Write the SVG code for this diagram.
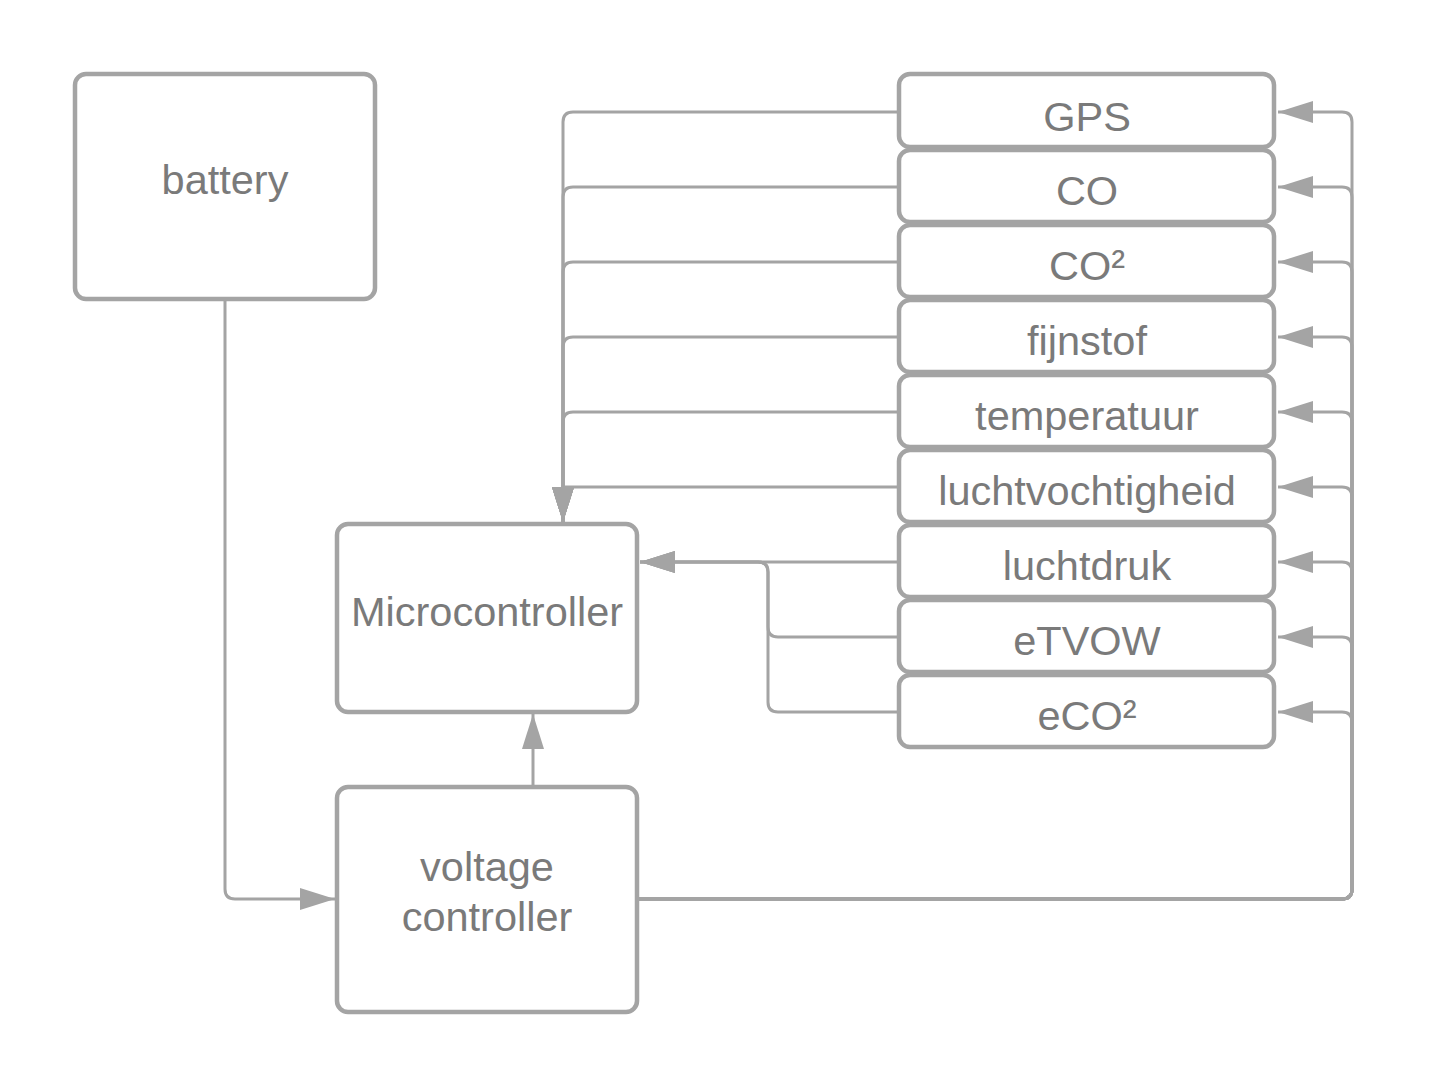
<svg xmlns="http://www.w3.org/2000/svg" width="1429" height="1088" viewBox="0 0 1429 1088">
<style>
.box{fill:#ffffff;stroke:#a4a4a4;stroke-width:4.5}
.lbl{font-family:"Liberation Sans",Arial,sans-serif;font-size:41.5px;fill:#7a7a7a;text-anchor:middle}
.ln{fill:none;stroke:#a4a4a4;stroke-width:3}
</style>
<defs>
<marker id="ah" markerUnits="userSpaceOnUse" markerWidth="36" markerHeight="24" refX="35" refY="11" orient="auto">
<path d="M0,0 L35,11 L0,22 z" fill="#a4a4a4"/>
</marker>
</defs>
<rect width="1429" height="1088" fill="#ffffff"/>
<g id="connectors">
<path class="ln" d="M225 299 V889 Q225 899 235 899 H335" marker-end="url(#ah)"/>
<path class="ln" d="M533 787 V714" marker-end="url(#ah)"/>
<path class="ln" d="M897 112 H573 Q563 112 563 122 V522" marker-end="url(#ah)"/>
<path class="ln" d="M897 187 H573 Q563 187 563 197 V522" marker-end="url(#ah)"/>
<path class="ln" d="M897 262 H573 Q563 262 563 272 V522" marker-end="url(#ah)"/>
<path class="ln" d="M897 337 H573 Q563 337 563 347 V522" marker-end="url(#ah)"/>
<path class="ln" d="M897 412 H573 Q563 412 563 422 V522" marker-end="url(#ah)"/>
<path class="ln" d="M897 487 H563 V522" marker-end="url(#ah)"/>
<path class="ln" d="M897 562 H640" marker-end="url(#ah)"/>
<path class="ln" d="M897 637 H778 Q768 637 768 627 V572 Q768 562 758 562 H640" marker-end="url(#ah)"/>
<path class="ln" d="M897 712 H778 Q768 712 768 702 V572 Q768 562 758 562 H640" marker-end="url(#ah)"/>
<path class="ln" d="M639 899 H1342 Q1352 899 1352 889 V122 Q1352 112 1342 112 H1278" marker-end="url(#ah)"/>
<path class="ln" d="M639 899 H1342 Q1352 899 1352 889 V197 Q1352 187 1342 187 H1278" marker-end="url(#ah)"/>
<path class="ln" d="M639 899 H1342 Q1352 899 1352 889 V272 Q1352 262 1342 262 H1278" marker-end="url(#ah)"/>
<path class="ln" d="M639 899 H1342 Q1352 899 1352 889 V347 Q1352 337 1342 337 H1278" marker-end="url(#ah)"/>
<path class="ln" d="M639 899 H1342 Q1352 899 1352 889 V422 Q1352 412 1342 412 H1278" marker-end="url(#ah)"/>
<path class="ln" d="M639 899 H1342 Q1352 899 1352 889 V497 Q1352 487 1342 487 H1278" marker-end="url(#ah)"/>
<path class="ln" d="M639 899 H1342 Q1352 899 1352 889 V572 Q1352 562 1342 562 H1278" marker-end="url(#ah)"/>
<path class="ln" d="M639 899 H1342 Q1352 899 1352 889 V647 Q1352 637 1342 637 H1278" marker-end="url(#ah)"/>
<path class="ln" d="M639 899 H1342 Q1352 899 1352 889 V722 Q1352 712 1342 712 H1278" marker-end="url(#ah)"/>
</g>
<g id="battery"><rect class="box" x="75" y="74" width="300" height="225" rx="11"/><text class="lbl" x="225" y="194">battery</text></g>
<g id="microcontroller"><rect class="box" x="337" y="524" width="300" height="188" rx="11"/><text class="lbl" x="487" y="626">Microcontroller</text></g>
<g id="voltage-controller"><rect class="box" x="337" y="787" width="300" height="225" rx="11"/><text class="lbl" x="487" y="881">voltage</text><text class="lbl" x="487" y="931">controller</text></g>
<g id="gps"><rect class="box" x="899" y="74" width="375" height="73" rx="11"/><text class="lbl" x="1087" y="131">GPS</text></g>
<g id="co"><rect class="box" x="899" y="150" width="375" height="72" rx="11"/><text class="lbl" x="1087" y="205">CO</text></g>
<g id="co2"><rect class="box" x="899" y="225" width="375" height="72" rx="11"/><text class="lbl" x="1087" y="280">CO²</text></g>
<g id="fijnstof"><rect class="box" x="899" y="300" width="375" height="72" rx="11"/><text class="lbl" x="1087" y="355">fijnstof</text></g>
<g id="temperatuur"><rect class="box" x="899" y="375" width="375" height="72" rx="11"/><text class="lbl" x="1087" y="430">temperatuur</text></g>
<g id="luchtvochtigheid"><rect class="box" x="899" y="450" width="375" height="72" rx="11"/><text class="lbl" x="1087" y="505">luchtvochtigheid</text></g>
<g id="luchtdruk"><rect class="box" x="899" y="525" width="375" height="72" rx="11"/><text class="lbl" x="1087" y="580">luchtdruk</text></g>
<g id="etvow"><rect class="box" x="899" y="600" width="375" height="72" rx="11"/><text class="lbl" x="1087" y="655">eTVOW</text></g>
<g id="eco2"><rect class="box" x="899" y="675" width="375" height="72" rx="11"/><text class="lbl" x="1087" y="730">eCO²</text></g>
</svg>
